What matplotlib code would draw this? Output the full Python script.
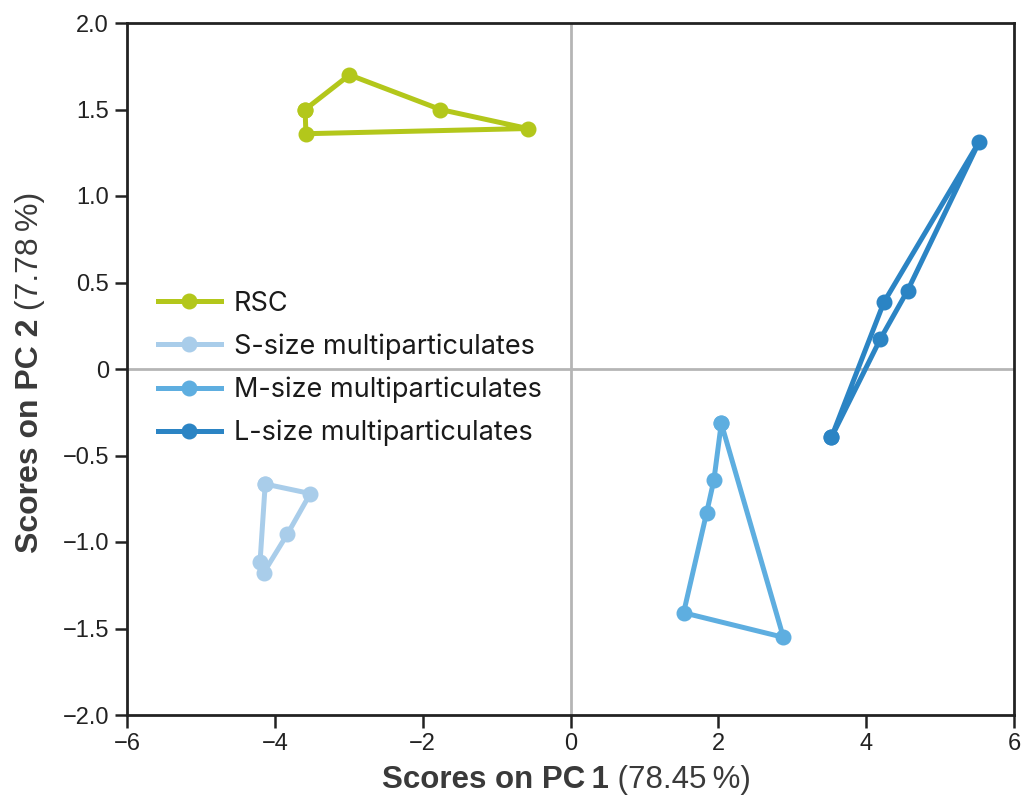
import numpy as np
import matplotlib
matplotlib.use("Agg")
import matplotlib.pyplot as plt


# PCA scores (closed loops per group)
rsc_x = [-3.59, -2.99, -1.76, -0.58, -3.58, -3.59]
rsc_y = [1.50, 1.70, 1.50, 1.39, 1.36, 1.50]

s_x = [-4.13, -3.52, -3.83, -4.15, -4.20, -4.13]
s_y = [-0.665, -0.72, -0.954, -1.177, -1.114, -0.665]

m_x = [2.04, 1.94, 1.84, 1.53, 2.88, 2.04]
m_y = [-0.314, -0.642, -0.834, -1.409, -1.551, -0.314]

l_x = [3.53, 4.24, 5.53, 4.56, 4.19, 3.53]
l_y = [-0.395, 0.386, 1.314, 0.453, 0.172, -0.395]

labels = ["RSC", "S-size multiparticulates", "M-size multiparticulates",
          "L-size multiparticulates"]
colors = ["#b3c71b", "#a9cdea", "#5eaee0", "#2b84c4"]

x_ticks = [-6, -4, -2, 0, 2, 4, 6]
y_ticks = [2.0, 1.5, 1.0, 0.5, 0.0, -0.5, -1.0, -1.5, -2.0]


def fmt_y(v):
    if v == 0:
        return "0"
    return ("%.1f" % v).replace("-", "\u2212")


def fmt_x(v):
    return ("%d" % v).replace("-", "\u2212")


fig = plt.figure(figsize=(10.33, 8.01), dpi=100)
ax = fig.add_axes([127 / 1033, 86 / 801, 887 / 1033, 692 / 801])

ax.axhline(0, color="#b5b5b5", lw=2, zorder=1)
ax.axvline(0, color="#b5b5b5", lw=2, zorder=1)

series = [(rsc_x, rsc_y), (s_x, s_y), (m_x, m_y), (l_x, l_y)]
for (xs, ys), lab, col in zip(series, labels, colors):
    ax.plot(xs, ys, color=col, lw=3.6, marker="o", markersize=10.5,
            solid_joinstyle="round", label=lab, zorder=3)

ax.set_xlim(-6, 6)
ax.set_ylim(-2, 2)
ax.set_xticks(x_ticks)
ax.set_xticklabels([fmt_x(v) for v in x_ticks])
ax.set_yticks(y_ticks)
ax.set_yticklabels([fmt_y(v) for v in y_ticks])

for sp in ax.spines.values():
    sp.set_linewidth(2)
    sp.set_color("#222222")

ax.tick_params(direction="out", length=9, width=1.8, color="#222222",
               labelsize=17, labelcolor="#222222", pad=4)
for t in ax.get_xticklabels() + ax.get_yticklabels():
    t.set_fontfamily("Liberation Sans")

leg = ax.legend(loc="upper left", bbox_to_anchor=(0.02, 0.633),
                frameon=False, handlelength=2.3, handletextpad=0.5,
                labelspacing=0.62, borderpad=0,
                prop={"family": "Inter", "size": 19.5})
for t in leg.get_texts():
    t.set_color("#1a1a1a")

# axis labels: bold part + regular part
lab_col = "#3a3a3a"
xb = fig.text(382 / 1033, 1 - 780 / 801, "Scores on PC\u20091",
              ha="left", va="center", fontsize=22.5, fontweight="bold",
              family="Liberation Sans", color=lab_col)
ax.annotate(" (78.45\u2009%)", xy=(1, 0), xycoords=xb, ha="left",
            va="bottom", fontsize=22.5, family="Liberation Sans",
            color=lab_col, annotation_clip=False)

yb = fig.text(30 / 1033, 1 - 553 / 801, "Scores on PC 2",
              ha="center", va="bottom", rotation=90, fontsize=23,
              fontweight="bold", family="Liberation Sans", color=lab_col)
ax.annotate(" (7.78\u2009%)", xy=(0, 1), xycoords=yb, ha="left",
            va="bottom", rotation=90, fontsize=23, family="Liberation Sans",
            color=lab_col, annotation_clip=False)

fig.savefig("out.png", dpi=100)
